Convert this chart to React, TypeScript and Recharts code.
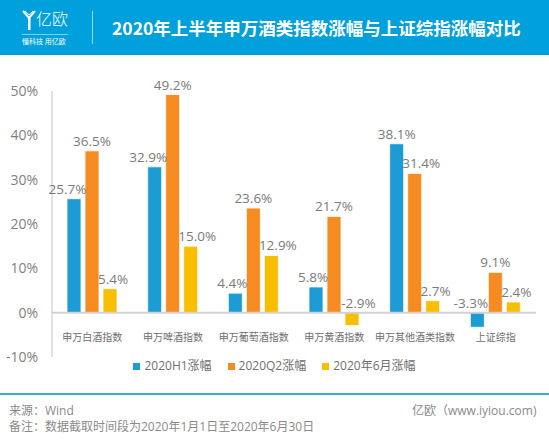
import React from 'react';
import { BarChart, Bar, XAxis, YAxis, ReferenceLine, LabelList } from 'recharts';

const categories = ['申万白酒指数', '申万啤酒指数', '申万葡萄酒指数', '申万黄酒指数', '申万其他酒类指数', '上证综指'];
const h1Values = [25.7, 32.9, 4.4, 5.8, 38.1, -3.3];
const q2Values = [36.5, 49.2, 23.6, 21.7, 31.4, 9.1];
const juneValues = [5.4, 15.0, 12.9, -2.9, 2.7, 2.4];
const yTicks = [-10, 0, 10, 20, 30, 40, 50];

const SERIES = [
  { key: 'h1', name: '2020H1涨幅', color: '#1d9bd5' },
  { key: 'q2', name: '2020Q2涨幅', color: '#f68b22' },
  { key: 'june', name: '2020年6月涨幅', color: '#f8bf00' }
];

const data = categories.map((name, i) => ({
  name,
  h1: h1Values[i],
  q2: q2Values[i],
  june: juneValues[i]
}));

const FONT = "'Open Sans', 'Noto Sans CJK SC', sans-serif";
const BAR_GAP = 4;

// label sits above the bar top (or above the zero line for negative bars),
// nudged sideways when a taller neighbouring bar would cover it
const ValueLabel = (props: any) => {
  const { x, y, width, height, value, index, sIdx } = props;
  const top = Math.min(y, y + height);
  const bottom = Math.max(y, y + height);
  const zeroY = value >= 0 ? bottom : top;
  const scale = Math.abs(height) / Math.abs(value || 1);
  const text = `${value.toFixed(1)}%`;
  const w = text.length * 7;
  const cx = x + width / 2;
  const row: any = data[index];
  const covers = (k: number) => {
    const s = SERIES[k];
    if (!s || !row) return false;
    const nv = row[s.key];
    return nv > 0 && zeroY - nv * scale < top - 3;
  };
  let dx = 0;
  if (covers(sIdx - 1)) dx = Math.max(0, x - BAR_GAP - (cx - w / 2));
  else if (covers(sIdx + 1)) dx = -Math.max(0, cx + w / 2 - (x + width + BAR_GAP));
  return (
    <text x={cx + dx} y={top - 5} textAnchor="middle" fontSize={13.5} fill="#7a7a7a" fontFamily={FONT}>
      {text}
    </text>
  );
};

const CategoryTick = (props: any) => {
  const { x, y, payload } = props;
  return (
    <text x={x} y={y} dy={-16} textAnchor="middle" fontSize={10} fill="#6e6e6e" fontFamily={FONT}>
      {payload.value}
    </text>
  );
};

function Logo() {
  return (
    <div style={{ position: 'absolute', left: 22, top: 8, width: 50, color: '#fff' }}>
      <svg width={14} height={20} style={{ position: 'absolute', left: 0, top: 2 }}>
        <path d="M1 1 L7 8 L13 1" stroke="#fff" strokeWidth={2} fill="none" />
        <path d="M3 1 L7 5 L11 1" stroke="#fff" strokeWidth={1} fill="none" />
        <rect x={6} y={8} width={2.5} height={12} fill="#fff" />
      </svg>
      <div style={{ position: 'absolute', left: 14, top: 0, fontSize: 16, lineHeight: '22px', fontFamily: FONT, fontWeight: 300 }}>
        亿欧
      </div>
      <div style={{ position: 'absolute', left: 0, top: 26, width: 46, height: 1, background: 'rgba(255,255,255,0.5)' }} />
      <div style={{ position: 'absolute', left: 0, top: 29, fontSize: 7, lineHeight: '9px', fontFamily: FONT, whiteSpace: 'nowrap' }}>
        懂科技 用亿欧
      </div>
    </div>
  );
}

export default function App() {
  return (
    <div style={{ position: 'absolute', left: 0, top: 0, width: 549, height: 440, background: '#fff', fontFamily: FONT, overflow: 'hidden' }}>
      <BarChart
        width={549}
        height={440}
        data={data}
        margin={{ top: 91, right: 13, left: 0, bottom: 53 }}
        barSize={14}
        barGap={BAR_GAP}
        style={{ position: 'absolute', left: 0, top: 0 }}
      >
        <XAxis dataKey="name" height={30} axisLine={false} tickLine={false} tickSize={0} tickMargin={0} interval={0} tick={<CategoryTick />} />
        <YAxis
          domain={[-10, 50]}
          ticks={yTicks}
          width={52}
          tickFormatter={(v) => `${v}%`}
          axisLine={{ stroke: '#c4c4c4' }}
          tickLine={false}
          tickSize={6}
          tickMargin={8}
          tick={{ fontSize: 14, fill: '#7f7f7f', fontFamily: FONT }}
          interval={0}
        />
        <ReferenceLine y={0} stroke="#d2d2d2" strokeWidth={2} />
        {SERIES.map((s, sIdx) => (
          <Bar key={s.key} dataKey={s.key} name={s.name} fill={s.color} stroke="#ffffff" strokeWidth={0.8} isAnimationActive={false}>
            <LabelList dataKey={s.key} content={(p: any) => <ValueLabel {...p} sIdx={sIdx} />} />
          </Bar>
        ))}
      </BarChart>

      {/* header */}
      <div style={{ position: 'absolute', left: 0, top: 0, width: 549, height: 55, background: '#00a0dc' }}>
        <Logo />
        <div style={{ position: 'absolute', left: 92, top: 11, width: 1, height: 33, background: 'rgba(255,255,255,0.6)' }} />
        <div style={{ position: 'absolute', left: 112, top: 15, fontSize: 17.5, lineHeight: '26px', fontWeight: 700, color: '#fff', whiteSpace: 'nowrap', fontFamily: "'Noto Sans CJK SC', sans-serif" }}>
          2020年上半年申万酒类指数涨幅与上证综指涨幅对比
        </div>
      </div>

      {/* legend */}
      <div style={{ position: 'absolute', left: 0, top: 358, width: 549, display: 'flex', justifyContent: 'center', gap: 16, fontSize: 12, color: '#6f6f6f', lineHeight: '16px' }}>
        {SERIES.map((s) => (
          <div key={s.key} style={{ display: 'flex', alignItems: 'center' }}>
            <span style={{ width: 7, height: 7, background: s.color, marginRight: 4, display: 'inline-block' }} />
            <span>{s.name}</span>
          </div>
        ))}
      </div>

      {/* footer */}
      <div style={{ position: 'absolute', left: 0, top: 393, width: 549, height: 2, background: '#39aad9' }} />
      <div style={{ position: 'absolute', left: 9, top: 403, fontSize: 12, color: '#8a8a8a', lineHeight: '16px' }}>
        <div>来源：Wind</div>
        <div>备注：数据截取时间段为2020年1月1日至2020年6月30日</div>
      </div>
      <div style={{ position: 'absolute', left: 412, top: 403, fontSize: 12, color: '#8a8a8a', lineHeight: '16px', whiteSpace: 'nowrap' }}>
        亿欧（www.iyiou.com)
      </div>
    </div>
  );
}
